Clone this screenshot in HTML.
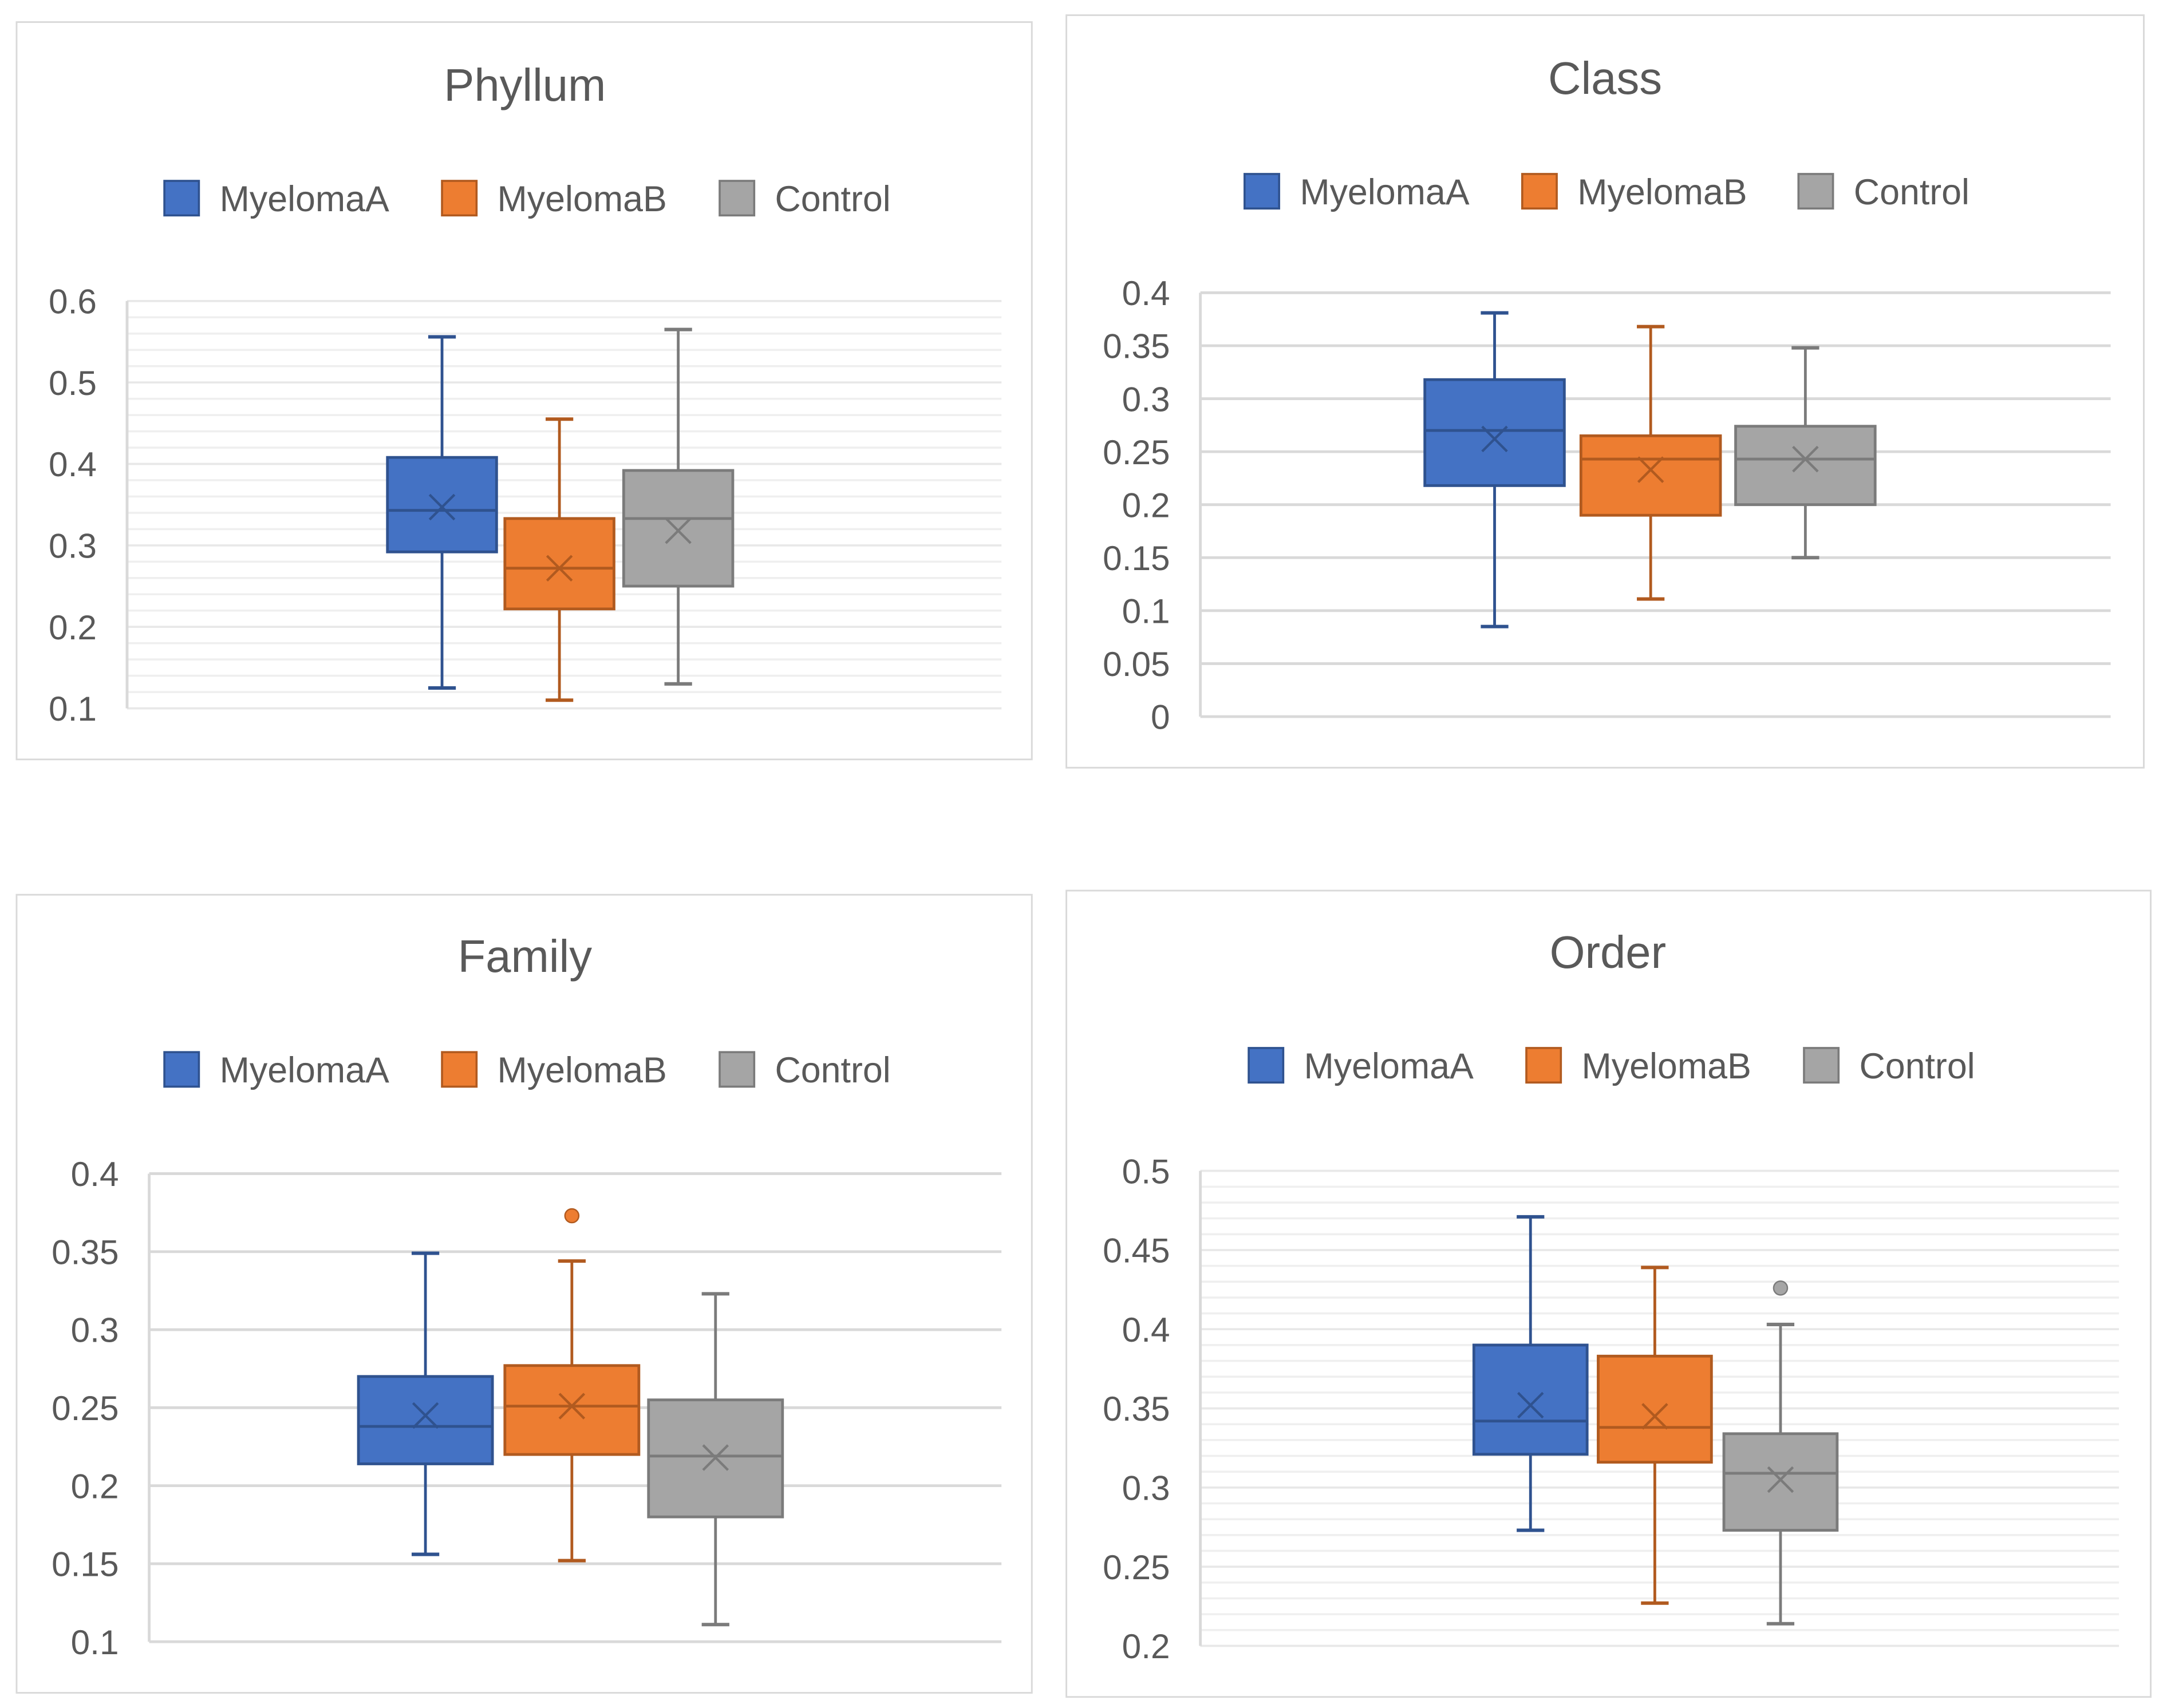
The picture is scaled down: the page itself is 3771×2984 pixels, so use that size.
<!DOCTYPE html>
<html><head><meta charset="utf-8"><style>
html,body{margin:0;padding:0;background:#fff;}
svg{display:block;font-family:"Liberation Sans",sans-serif;}
</style></head><body>
<svg id="root" width="3771" height="2984" viewBox="0 0 1563 1237" preserveAspectRatio="none" xmlns="http://www.w3.org/2000/svg"></svg>
<script>
const seriesNames = ["MyelomaA","MyelomaB","Control"];
const panelTitles = ["Phyllum","Class","Family","Order"];
// per panel: [min, q1, median, q3, max, mean] per series
const phyllumStats = [[0.125,0.292,0.343,0.408,0.556,0.347],[0.11,0.222,0.272,0.333,0.455,0.272],[0.13,0.25,0.333,0.392,0.565,0.318]];
const classStats = [[0.085,0.218,0.27,0.318,0.381,0.262],[0.111,0.19,0.243,0.265,0.368,0.233],[0.15,0.2,0.243,0.274,0.348,0.243]];
const familyStats = [[0.156,0.214,0.238,0.27,0.349,0.245],[0.152,0.22,0.251,0.277,0.344,0.251],[0.111,0.18,0.219,0.255,0.323,0.218]];
const orderStats = [[0.273,0.321,0.342,0.39,0.471,0.352],[0.227,0.316,0.338,0.383,0.439,0.345],[0.214,0.273,0.309,0.334,0.403,0.305]];
const phyllumOutliers = [[],[],[]];
const classOutliers = [[],[],[]];
const familyOutliers = [[],[0.373],[]];
const orderOutliers = [[],[],[0.426]];
const phyllumTicks = [0.1,0.2,0.3,0.4,0.5,0.6];
const classTicks = [0,0.05,0.1,0.15,0.2,0.25,0.3,0.35,0.4];
const familyTicks = [0.1,0.15,0.2,0.25,0.3,0.35,0.4];
const orderTicks = [0.2,0.25,0.3,0.35,0.4,0.45,0.5];

const fills=["#4472C4","#ED7D31","#A5A5A5"], strokes=["#2F528F","#B15A1F","#7B7B7B"];
const layouts=[
 {box:[12,16,735,534],title:[380,62],leg:143,legSq:[119,320,521],axX:92,gx2:725,yTop:218,yBot:513,centers:[320,405,491],bw:79,minor:0.02},
 {box:[772,11,780,545],title:[1162,57],leg:138,legSq:[901,1102,1302],axX:869,gx2:1528,yTop:212,yBot:519,centers:[1082,1195,1307],bw:101,minor:0},
 {box:[12,648,735,578],title:[380,693],leg:774,legSq:[119,320,521],axX:108,gx2:725,yTop:850,yBot:1189,centers:[308,414,518],bw:97,minor:0},
 {box:[772,645,785,584],title:[1164,690],leg:771,legSq:[904,1105,1306],axX:869,gx2:1534,yTop:848,yBot:1192,centers:[1108,1198,1289],bw:82,minor:0.01}
];
const allStats=[phyllumStats,classStats,familyStats,orderStats];
const allOut=[phyllumOutliers,classOutliers,familyOutliers,orderOutliers];
const allTicks=[phyllumTicks,classTicks,familyTicks,orderTicks];
const NS="http://www.w3.org/2000/svg", root=document.getElementById('root');
function mk(tag,attrs,parent){const e=document.createElementNS(NS,tag);for(const k in attrs)e.setAttribute(k,attrs[k]);parent.appendChild(e);return e;}
layouts.forEach((L,p)=>{
  const g=mk('g',{},root);
  
  
  const r=mk('rect',{x:L.box[0],y:L.box[1],width:L.box[2],height:L.box[3],fill:'#fff',stroke:'#D9D9D9','stroke-width':1.2},g);
  
  
  const t=mk('text',{x:L.title[0],y:L.title[1]+11,'text-anchor':'middle','font-size':33,fill:'#595959'},g);
  t.textContent=panelTitles[p];
  
  
  seriesNames.forEach((n,i)=>{
    const sq=mk('rect',{x:L.legSq[i],y:L.leg-12,width:25,height:25,fill:fills[i],stroke:strokes[i],'stroke-width':1.5},g);
    
    
    const lt=mk('text',{x:L.legSq[i]+40,y:L.leg+10,'font-size':26,fill:'#595959'},g);
    lt.textContent=n;
    
    
  });
  const ticks=allTicks[p], tmin=ticks[0], tmax=ticks[ticks.length-1];
  const y=v=>L.yBot-(v-tmin)/(tmax-tmin)*(L.yBot-L.yTop);
  if(L.minor){
    for(let v=tmin;v<=tmax+1e-9;v+=L.minor){
      const ml=mk('line',{x1:L.axX,x2:L.gx2,y1:y(v),y2:y(v),stroke:'#EFEFEF','stroke-width':1.5},g);
      
      
    }
  }
  ticks.forEach(v=>{
    const gl=mk('line',{x1:L.axX,x2:L.gx2,y1:y(v),y2:y(v),stroke:L.minor?'#E8E8E8':'#D9D9D9','stroke-width':L.minor?1.5:2},g);
    
    
    const tl=mk('text',{x:L.axX-22,y:y(v)+9,'text-anchor':'end','font-size':25,fill:'#595959'},g);
    tl.textContent=String(v);
    
    
  });
  const ax=mk('line',{x1:L.axX,x2:L.axX,y1:L.yTop,y2:L.yBot,stroke:'#D9D9D9','stroke-width':2},g);
  
  
  allStats[p].forEach((s,i)=>{
    const cx=L.centers[i], hw=L.bw/2, st=strokes[i];
    const bg=mk('g',{},g);
    
    
    mk('line',{x1:cx,x2:cx,y1:y(s[4]),y2:y(s[3]),stroke:st,'stroke-width':2},bg);
    mk('line',{x1:cx,x2:cx,y1:y(s[1]),y2:y(s[0]),stroke:st,'stroke-width':2},bg);
    mk('line',{x1:cx-10,x2:cx+10,y1:y(s[4]),y2:y(s[4]),stroke:st,'stroke-width':2.5},bg);
    mk('line',{x1:cx-10,x2:cx+10,y1:y(s[0]),y2:y(s[0]),stroke:st,'stroke-width':2.5},bg);
    mk('rect',{x:cx-hw,y:y(s[3]),width:L.bw,height:y(s[1])-y(s[3]),fill:fills[i],stroke:st,'stroke-width':2},bg);
    mk('line',{x1:cx-hw,x2:cx+hw,y1:y(s[2]),y2:y(s[2]),stroke:st,'stroke-width':2},bg);
    const my=y(s[5]);
    mk('path',{d:`M${cx-9},${my-9}L${cx+9},${my+9}M${cx+9},${my-9}L${cx-9},${my+9}`,stroke:st,'stroke-width':1.8,fill:'none'},bg);
    allOut[p][i].forEach(o=>{
      const c=mk('circle',{cx:cx,cy:y(o),r:5,fill:fills[i],stroke:st,'stroke-width':1},bg);
      
      
    });
  });
});
</script>
</body></html>
